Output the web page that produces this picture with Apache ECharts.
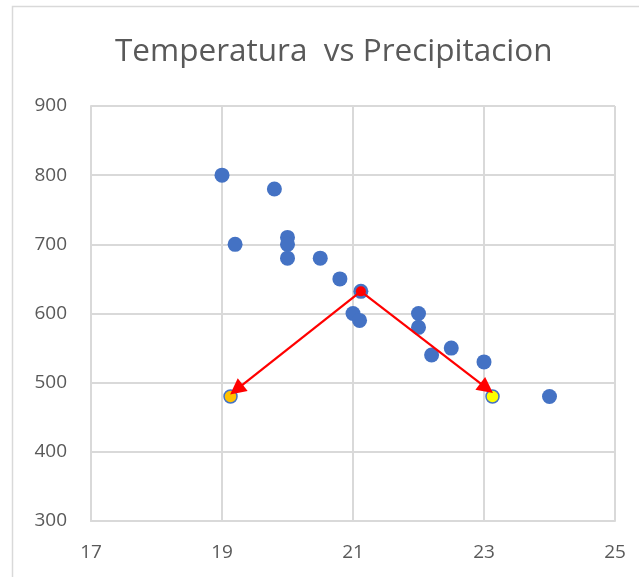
<!DOCTYPE html>
<html>
<head>
<meta charset="utf-8">
<script src="https://cdn.jsdelivr.net/npm/echarts@6/dist/echarts.min.js"></script>
<style>
html,body{margin:0;padding:0;background:#fff;}
#chart{width:639px;height:577px;}
</style>
</head>
<body>
<div id="chart"></div>
<script>
// Data
var titleText = 'Temperatura  vs Precipitacion';
var xTicks = [17, 19, 21, 23, 25];
var yTicks = [300, 400, 500, 600, 700, 800, 900];
var tempValues = [19, 19.8, 19.2, 20, 20, 20, 20.5, 20.8, 21.12, 21, 21.1, 22, 22, 22.2, 22.5, 23, 24];
var precipValues = [800, 780, 700, 710, 700, 680, 680, 650, 632, 600, 590, 600, 580, 540, 550, 530, 480];
var orangePoint = [19.13, 480];
var yellowPoint = [23.13, 480];
var redPoint = [21.12, 632];
var arrowTipLeft = [19.22, 490];
var arrowTipRight = [23.04, 492];

var mainData = tempValues.map(function (t, i) { return [t, precipValues[i]]; });

var chart = echarts.init(document.getElementById('chart'), null, {renderer: 'canvas'});
var gridColor = '#d9d9d9';
var textColor = '#595959';
var font = 'Open Sans';

chart.setOption({
  animation: false,
  backgroundColor: '#ffffff',
  title: {
    text: titleText,
    left: 110,
    top: 31,
    textStyle: {fontFamily: font, fontSize: 31.5, fontWeight: 'normal', color: textColor}
  },
  graphic: [{
    type: 'rect',
    shape: {x: 12.5, y: 6.5, width: 700, height: 700},
    style: {fill: 'none', stroke: gridColor, lineWidth: 1.5},
    silent: true
  }],
  grid: {left: 91, top: 106, width: 524, height: 415, containLabel: false},
  xAxis: {
    type: 'value',
    min: xTicks[0], max: xTicks[xTicks.length - 1], interval: 2,
    axisLine: {show: true, lineStyle: {color: gridColor, width: 2}},
    axisTick: {show: false},
    splitLine: {show: true, lineStyle: {color: gridColor, width: 2}},
    axisLabel: {color: textColor, fontFamily: font, fontSize: 19, margin: 22}
  },
  yAxis: {
    type: 'value',
    min: yTicks[0], max: yTicks[yTicks.length - 1], interval: 100,
    axisLine: {show: true, lineStyle: {color: gridColor, width: 2}},
    axisTick: {show: false},
    splitLine: {show: true, lineStyle: {color: gridColor, width: 2}},
    axisLabel: {color: textColor, fontFamily: font, fontSize: 19, margin: 24}
  },
  series: [
    {
      type: 'scatter',
      data: mainData,
      symbolSize: 15,
      itemStyle: {color: '#4472c4', opacity: 1},
      z: 2
    },
    {
      type: 'scatter',
      data: [orangePoint],
      symbolSize: 13,
      itemStyle: {color: '#ffc000', borderColor: '#4472c4', borderWidth: 1.5, opacity: 1},
      z: 3
    },
    {
      type: 'scatter',
      data: [yellowPoint],
      symbolSize: 13,
      itemStyle: {color: '#ffff00', borderColor: '#4472c4', borderWidth: 1.5, opacity: 1},
      z: 3
    },
    {
      type: 'lines',
      coordinateSystem: 'cartesian2d',
      symbol: ['none', 'triangle'],
      symbolSize: [14, 16],
      lineStyle: {color: '#ff0000', width: 2.2, opacity: 1, curveness: 0},
      data: [
        {coords: [redPoint, arrowTipLeft]},
        {coords: [redPoint, arrowTipRight]}
      ],
      z: 4
    },
    {
      type: 'scatter',
      data: [redPoint],
      symbolSize: 10,
      itemStyle: {color: '#ff0000', opacity: 1},
      z: 5
    }
  ]
});
</script>
</body>
</html>
